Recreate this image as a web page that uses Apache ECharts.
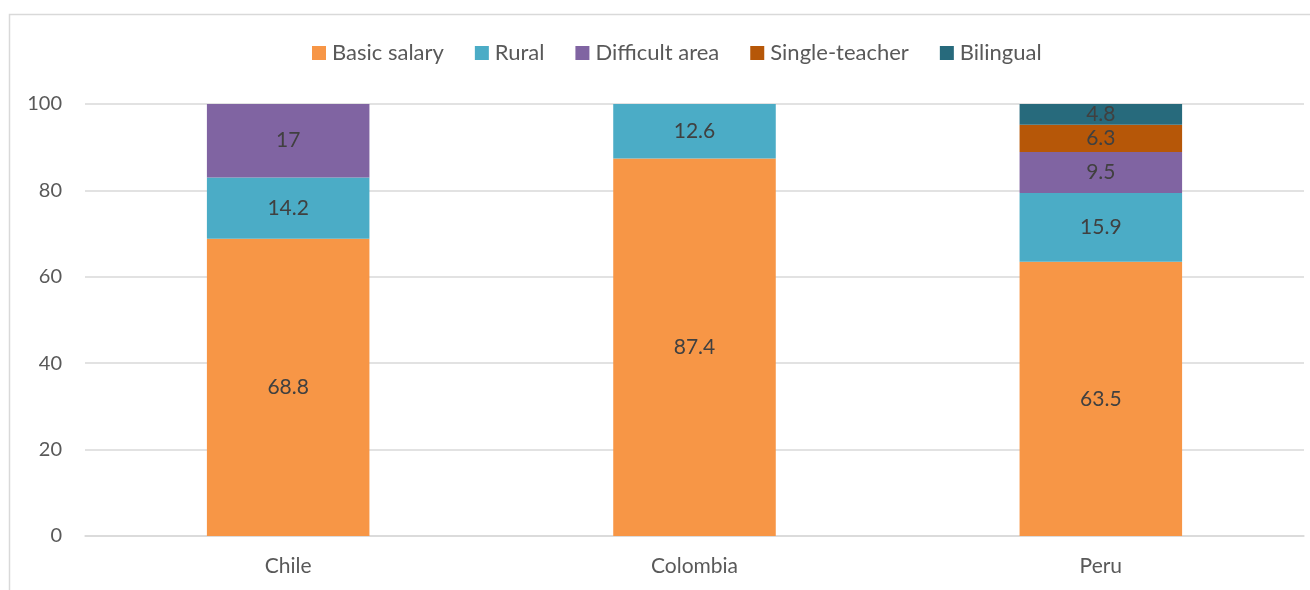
<!DOCTYPE html>
<html>
<head>
<meta charset="utf-8">
<script src="https://cdn.jsdelivr.net/npm/echarts@6/dist/echarts.min.js"></script>
<style>
  html, body { margin: 0; padding: 0; background: #ffffff; }
  #chart { width: 1310px; height: 590px; }
</style>
</head>
<body>
<div id="chart"></div>
<script>
// Countries on the category axis
const countries = ['Chile', 'Colombia', 'Peru'];

// Share of teacher pay by component (%); null where the component does not apply
const basicSalary   = [68.8, 87.4, 63.5];
const rural         = [14.2, 12.6, 15.9];
const difficultArea = [17, null, 9.5];
const singleTeacher = [null, null, 6.3];
const bilingual     = [null, null, 4.8];

// Value axis ticks
const yTicks = [0, 20, 40, 60, 80, 100];

const seriesDefs = [
  { name: 'Basic salary',   data: basicSalary,   color: '#F79646' },
  { name: 'Rural',          data: rural,         color: '#4BACC6' },
  { name: 'Difficult area', data: difficultArea, color: '#8064A2' },
  { name: 'Single-teacher', data: singleTeacher, color: '#B65708' },
  { name: 'Bilingual',      data: bilingual,     color: '#276A7C' }
];

const FONT = 'Lato, "Open Sans", sans-serif';

const chart = echarts.init(document.getElementById('chart'), null, { renderer: 'canvas' });

chart.setOption({
  animation: false,
  backgroundColor: '#ffffff',
  graphic: [{
    type: 'rect',
    silent: true,
    z: -10,
    shape: { x: 9.5, y: 14.5, width: 1400, height: 700 },
    style: { fill: 'none', stroke: '#d9d9d9', lineWidth: 1.5 }
  }],
  legend: {
    left: 307,
    top: 37,
    itemWidth: 14,
    itemHeight: 14,
    itemGap: 31,
    icon: 'rect',
    textStyle: { fontFamily: FONT, fontSize: 22, color: '#595959', padding: [0, 0, 0, 1] },
    data: seriesDefs.map(s => s.name)
  },
  grid: { left: 85, right: 6, top: 104, bottom: 54, containLabel: false },
  xAxis: {
    type: 'category',
    data: countries,
    axisLine: { lineStyle: { color: '#d9d9d9', width: 1.5 } },
    axisTick: { show: false },
    axisLabel: { fontFamily: FONT, fontSize: 21, color: '#595959', margin: 20 }
  },
  yAxis: {
    type: 'value',
    min: yTicks[0],
    max: yTicks[yTicks.length - 1],
    interval: yTicks[1] - yTicks[0],
    axisLine: { show: false },
    axisTick: { show: false },
    splitLine: { lineStyle: { color: '#d9d9d9', width: 1.5 } },
    axisLabel: { fontFamily: FONT, fontSize: 20, color: '#595959', margin: 23 }
  },
  series: seriesDefs.map(s => ({
    name: s.name,
    type: 'bar',
    stack: 'pay',
    barWidth: '40%',
    data: s.data,
    itemStyle: { color: s.color },
    label: {
      show: true,
      position: 'inside',
      fontFamily: FONT,
      fontSize: 21,
      color: '#404040',
      formatter: p => (p.value == null ? '' : String(p.value))
    }
  }))
});
</script>
</body>
</html>
